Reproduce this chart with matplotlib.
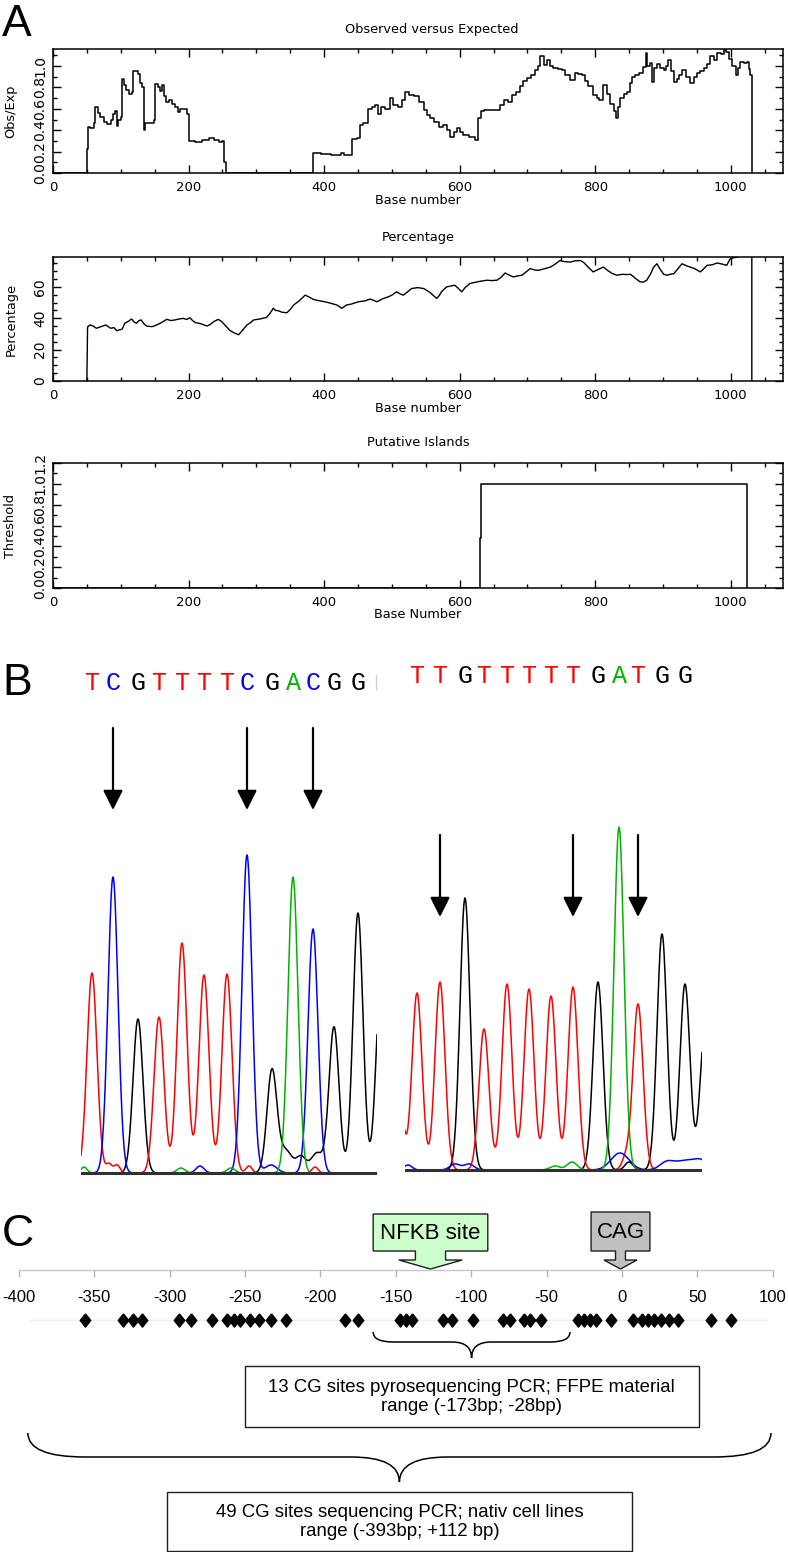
"""
Three-part figure: CpG island plot of the promoter (A), bisulfite
sequencing traces before/after conversion (B) and a map of the CG sites
covered by the two PCR assays (C).
"""
import numpy as np
import matplotlib.pyplot as plt
from matplotlib.patches import Polygon, Rectangle, PathPatch
from matplotlib.path import Path
from matplotlib.ticker import MultipleLocator, FormatStrFormatter

W, H = 788, 1552

# ---- A: CpG plot ----
obs_base = [
    0, 50, 51, 55, 60, 62, 66, 70, 75, 80,
    85, 88, 91, 94, 96, 100, 102, 105, 108, 112,
    116, 118, 126, 128, 131, 134, 136, 149, 150, 155,
    158, 161, 164, 167, 171, 176, 180, 184, 188, 197,
    200, 210, 220, 230, 238, 245, 250, 253, 255, 384,
    395, 410, 425, 430, 441, 448, 453, 458, 464, 470,
    475, 480, 484, 490, 497, 502, 509, 515, 520, 525,
    532, 540, 547, 552, 556, 562, 569, 575, 581, 586,
    591, 596, 600, 605, 614, 623, 627, 631, 636, 655,
    660, 665, 671, 677, 683, 689, 694, 699, 705, 711,
    716, 719, 724, 729, 733, 738, 745, 751, 756, 763,
    770, 775, 780, 785, 790, 797, 802, 805, 812, 817,
    822, 827, 830, 834, 837, 842, 847, 851, 854, 859,
    864, 871, 875, 877, 881, 884, 887, 891, 895, 901,
    905, 908, 912, 916, 920, 924, 928, 934, 940, 945,
    950, 955, 960, 965, 970, 975, 980, 985, 990, 993,
    997, 1002, 1007, 1011, 1014, 1020, 1024, 1027, 1029, 1031]
obs_ratio = [
    0.0, 0.22, 0.43, 0.42, 0.47, 0.62, 0.56, 0.52, 0.48, 0.46,
    0.50, 0.55, 0.58, 0.44, 0.50, 0.52, 0.88, 0.82, 0.78, 0.74,
    0.76, 0.95, 0.93, 0.84, 0.80, 0.40, 0.47, 0.50, 0.83, 0.80,
    0.77, 0.82, 0.72, 0.66, 0.68, 0.65, 0.62, 0.57, 0.60, 0.55,
    0.30, 0.29, 0.31, 0.33, 0.31, 0.29, 0.30, 0.10, 0.0, 0.19,
    0.18, 0.17, 0.19, 0.17, 0.32, 0.33, 0.45, 0.47, 0.60, 0.62,
    0.64, 0.55, 0.62, 0.60, 0.70, 0.64, 0.62, 0.68, 0.76, 0.73,
    0.72, 0.66, 0.59, 0.54, 0.51, 0.48, 0.43, 0.45, 0.40, 0.34,
    0.38, 0.42, 0.38, 0.36, 0.34, 0.31, 0.51, 0.58, 0.59, 0.59,
    0.64, 0.68, 0.66, 0.73, 0.76, 0.81, 0.86, 0.885, 0.92, 0.96,
    1.00, 1.09, 1.01, 1.06, 1.00, 0.98, 0.97, 0.96, 0.92, 0.87,
    0.94, 0.93, 0.92, 0.86, 0.81, 0.73, 0.70, 0.68, 0.82, 0.74,
    0.65, 0.58, 0.51, 0.62, 0.70, 0.74, 0.76, 0.84, 0.90, 0.92,
    0.94, 0.99, 1.12, 1.00, 1.03, 0.85, 0.98, 1.02, 0.98, 0.96,
    1.00, 1.06, 0.95, 0.85, 0.88, 0.92, 0.96, 0.90, 0.84, 0.90,
    0.94, 0.95, 0.98, 1.02, 1.09, 1.06, 1.12, 1.11, 1.15, 1.13,
    1.07, 1.00, 0.92, 0.98, 1.04, 1.03, 1.04, 0.97, 0.92, 0.0]

pct_base = [
    50, 50.5, 51, 55, 60, 64, 70, 78, 85, 90,
    94, 98, 102, 106, 111, 116, 120, 123, 127, 130,
    134, 138, 146, 152, 158, 163, 168, 174, 180, 186,
    192, 197, 202, 206, 210, 218, 227, 232, 237, 244,
    249, 255, 261, 268, 274, 280, 286, 291, 296, 305,
    315, 320, 325, 328, 332, 338, 345, 350, 355, 363,
    372, 378, 384, 392, 401, 410, 419, 426, 433, 440,
    451, 460, 468, 478, 487, 495, 500, 507, 512, 517,
    523, 529, 538, 547, 556, 566, 570, 573, 577, 581,
    587, 593, 598, 603, 608, 615, 622, 630, 640, 647,
    655, 661, 667, 673, 679, 686, 692, 698, 704, 710,
    716, 725, 734, 741, 748, 755, 763, 770, 778, 783,
    787, 792, 797, 804, 812, 818, 825, 832, 840, 846,
    852, 859, 866, 871, 876, 882, 886, 891, 896, 901,
    906, 911, 916, 922, 928, 934, 940, 947, 955, 960,
    965, 972, 980, 987, 994, 999, 1004, 1009, 1020, 1031,
    1031]
pct_gc = [
    0, 17, 34.5, 35.7, 34.8, 33.6, 34.5, 35.7, 33.6, 34.0,
    32.0, 32.6, 33.0, 36.8, 38.0, 39.5, 37.5, 36.8, 38.5, 38.9,
    36.5, 35.0, 34.6, 35.5, 36.8, 38.0, 39.3, 38.5, 38.9, 39.5,
    39.9, 39.2, 40.3, 38.5, 37.2, 36.5, 35.0, 36.0, 37.8, 39.3,
    37.8, 35.0, 32.2, 30.5, 29.5, 32.5, 35.7, 37.0, 38.9, 39.5,
    40.5, 43.0, 46.3, 45.0, 44.8, 43.8, 43.5, 45.5, 48.4, 51.0,
    54.7, 53.5, 52.0, 51.2, 50.5, 49.5, 48.4, 46.3, 48.4, 49.0,
    50.5, 51.0, 52.2, 50.5, 52.5, 53.7, 54.7, 56.8, 55.5, 54.7,
    56.8, 58.9, 59.5, 58.9, 56.5, 52.6, 54.5, 56.8, 58.5, 60.0,
    60.5, 61.0, 59.0, 56.8, 59.5, 62.1, 62.8, 63.5, 64.2, 64.0,
    64.2, 66.0, 68.8, 67.5, 66.3, 67.0, 67.4, 69.5, 71.6, 70.8,
    70.5, 71.5, 72.6, 74.5, 76.8, 76.0, 75.8, 76.5, 76.8, 75.5,
    73.7, 71.5, 69.5, 71.0, 72.6, 70.5, 68.5, 67.4, 68.0, 67.8,
    68.0, 65.5, 63.2, 63.0, 64.2, 68.5, 72.5, 74.7, 71.0, 68.0,
    67.4, 68.0, 68.4, 71.5, 74.7, 73.5, 72.6, 71.5, 69.5, 71.5,
    73.7, 74.0, 75.2, 74.5, 73.7, 77.9, 78.5, 78.9, 82.0, 82.0,
    0]

island_base = [0, 630, 632, 1024]
island_flag = [0.0, 0.48, 1.0, 0.0]

# ---- B: sequencing traces (peak position in scan units, peak height) ----
left_calls = "TCGTTTTCGACGG"
left_pos = [11, 32, 57, 78, 101, 123, 146, 166, 191, 212, 232, 253, 277]
left_height = [200, 296, 154, 156, 230, 198, 199, 318, 103, 296, 244, 146, 260]
left_bg_base = "GTTTTAACCGGGA"
left_bg_pos = [300, 28, 36, 168, 234, 100, 150, 119, 190, 205, 220, 236, 3]
left_bg_height = [190, 9, 8, 7, 6, 5, 5, 7, 8, 22, 16, 20, 6]
left_bg_width = [5, 3, 3, 3, 3, 4, 4, 4, 6, 6, 5, 6, 3]

right_calls = "TTGTTTTTGATGG"
right_pos = [12, 35, 60, 79, 102, 124, 146, 168, 193, 214, 233, 257, 280]
right_height = [177, 188, 272, 141, 186, 181, 174, 183, 188, 343, 166, 236, 186]
right_bg_base = "TGCCCCCCCAAGT"
right_bg_pos = [-9, 300, 215, 262, 280, 296, 50, 64, 3, 150, 167, 224, 221]
right_bg_height = [150, 140, 17, 8, 9, 9, 6, 6, 5, 4, 8, 8, 12]
right_bg_width = [5, 5, 9, 7, 9, 7, 5, 5, 4, 5, 5, 4, 4]

cpg_idx = [1, 7, 10]   # CpG cytosines marked with arrows

# ---- C: CG sites relative to the transcription start (bp) ----
cg_sites = [-356, -331, -324, -318, -294, -286, -272, -262, -257, -253,
            -247, -241, -233, -223, -184, -175, -147, -143, -139, -119,
            -113, -99, -79, -74, -65, -61, -54, -29, -25, -21,
            -17, -7, 7, 13, 17, 21, 26, 31, 37, 59, 72]
axis_ticks = list(range(-400, 101, 50))
callout_label = ["NFKB site", "CAG"]
callout_pos = [-127, -1]
callout_color = ["#ccffcc", "#c0c0c0"]
brace_start = [-165, -394]
brace_end = [-34.5, 98.8]
assay_text = ["13 CG sites pyrosequencing PCR; FFPE material\nrange (-173bp; -28bp)",
              "49 CG sites sequencing PCR; nativ cell lines\nrange (-393bp; +112 bp)"]

BASE_COLOR = {"T": "#ff0000", "C": "#0000ff", "G": "#000000", "A": "#00b400"}

fig = plt.figure(figsize=(W / 100, H / 100), dpi=100)


def px_axes(x0, y0, x1, y1):
    return fig.add_axes([x0 / W, 1 - y1 / H, (x1 - x0) / W, (y1 - y0) / H])


def cpg_axes(y0, y1, ymax, ymajor, yminor, yfmt, title, title_x, ylabel, xlabel):
    ax = px_axes(53, y0, 783, y1)
    ax.set_xlim(0, 1077)
    ax.set_ylim(0, ymax)
    ax.xaxis.set_major_locator(MultipleLocator(200))
    ax.xaxis.set_minor_locator(MultipleLocator(50))
    ax.yaxis.set_major_locator(MultipleLocator(ymajor))
    ax.yaxis.set_minor_locator(MultipleLocator(yminor))
    ax.yaxis.set_major_formatter(FormatStrFormatter(yfmt))
    ax.tick_params(which="both", direction="in", top=True, right=True, width=1)
    ax.tick_params(which="major", length=5.5)
    ax.tick_params(which="minor", length=3)
    ax.tick_params(axis="x", pad=6, labelsize=9.5)
    ax.tick_params(axis="y", pad=4, labelrotation=90, labelsize=10)
    plt.setp(ax.get_yticklabels(), va="center")
    for sp in ax.spines.values():
        sp.set_linewidth(1.1)
    h = y1 - y0
    ax.text(title_x, 1 + 20 / h, title, transform=ax.transAxes,
            ha="center", va="center", fontsize=9.3)
    ax.text(0.5, -27 / h, xlabel, transform=ax.transAxes,
            ha="center", va="center", fontsize=9.3)
    ax.text(-42 / 730, 0.5, ylabel, transform=ax.transAxes, rotation=90,
            ha="center", va="center", fontsize=9.3)
    return ax


ax1 = cpg_axes(49, 173, 1.16, 0.2, 0.1, "%.1f", "Observed versus Expected", 0.519,
               "Obs/Exp", "Base number")
ax1.plot(obs_base, obs_ratio, drawstyle="steps-post", color="black", lw=1.1)

ax2 = cpg_axes(257, 381, 79, 20, 5, "%d", "Percentage", 0.5, "Percentage", "Base number")
ax2.plot(pct_base, pct_gc, color="black", lw=1.0)

ax3 = cpg_axes(463, 588, 1.2, 0.2, 0.1, "%.1f", "Putative Islands", 0.5,
               "Threshold", "Base Number")
ax3.plot(island_base, island_flag, drawstyle="steps-post", color="black", lw=1.1)


def chromatogram(ax, calls, pos, height, bg_base, bg_pos, bg_height, bg_width,
                 xmax, letter_y, arrow_top, arrow_tip, sigma=5.0):
    scan = np.arange(0, xmax + 0.5, 0.5)
    for base in "GTCA":
        sig = np.zeros_like(scan)
        for b, p, hgt in zip(calls, pos, height):
            if b == base:
                sig += hgt * np.exp(-0.5 * ((scan - p) / sigma) ** 2)
        for b, p, hgt, w in zip(bg_base, bg_pos, bg_height, bg_width):
            if b == base:
                sig += hgt * np.exp(-0.5 * ((scan - p) / w) ** 2)
        ax.plot(scan, sig, color=BASE_COLOR[base], lw=1.1, zorder=2)
    ax.axhline(0, color="#303030", lw=2.2, zorder=3)
    for b, p in zip(calls, pos):
        ax.text(p, letter_y, b, color=BASE_COLOR[b], ha="center", va="center",
                fontsize=18, family="Liberation Mono")
    for i in cpg_idx:
        ax.annotate("", xy=(pos[i], arrow_tip), xytext=(pos[i], arrow_top),
                    arrowprops=dict(arrowstyle="-|>,head_length=0.6,head_width=0.3",
                                    color="black", lw=1.6, shrinkA=0, shrinkB=0,
                                    mutation_scale=20))
    ax.set_xlim(0, xmax)
    ax.axis("off")


axl = px_axes(81, 640, 377, 1180)
axl.set_ylim(-7, 533)
chromatogram(axl, left_calls, left_pos, left_height, left_bg_base, left_bg_pos,
             left_bg_height, left_bg_width, 296, 490, 445, 363)
axl.text(295, 490, "|", color="#d0d0d0", ha="center", va="center", fontsize=11)

axr = px_axes(405, 640, 702, 1180)
axr.set_ylim(-10, 530)
chromatogram(axr, right_calls, right_pos, right_height, right_bg_base, right_bg_pos,
             right_bg_height, right_bg_width, 297, 494, 335, 253)

# ---- C ----
axc = px_axes(0, 1200, 788, 1552)
axc.set_xlim(-622 / 1.508, (788 - 622) / 1.508)
axc.set_ylim(352, 0)
axc.axis("off")

axc.hlines(70, axis_ticks[0], axis_ticks[-1], color="#c8c8c8", lw=1)
axc.vlines(axis_ticks, 70, 77, color="#b4b4b4", lw=1)
for v in axis_ticks:
    axc.text(v, 98, f"{v}", ha="center", va="center", fontsize=12, family="Liberation Sans")

axc.hlines(120, axis_ticks[0] + 7, axis_ticks[-1] - 3, color="#efefef", lw=1, zorder=1)
axc.plot(cg_sites, [120] * len(cg_sites), linestyle="none", color="black",
         marker=[(0, 1), (0.8, 0), (0, -1), (-0.8, 0), (0, 1)], ms=9.5, zorder=2)

callout_size = [(38, 10, 21, 14), (19.5, 3.3, 11, 12)]  # box/neck/head half widths, box top
for label, c, col, (hw, nw, aw, yt) in zip(callout_label, callout_pos, callout_color, callout_size):
    yb, yn, yp = 51, 60, 69
    verts = [(c - hw, yt), (c + hw, yt), (c + hw, yb), (c + nw, yb), (c + nw, yn),
             (c + aw, yn), (c, yp), (c - aw, yn), (c - nw, yn), (c - nw, yb), (c - hw, yb)]
    axc.add_patch(Polygon(verts, closed=True, facecolor=col, edgecolor="#202020", lw=1))
    axc.text(c, (yt + yb) / 2 + 1, label, ha="center", va="center", fontsize=16,
             family="Liberation Sans")


def brace(ax, x0, x1, y_end, y_mid, y_tip, r_end, r_tip):
    xm = (x0 + x1) / 2
    verts = [(x0, y_end), (x0, y_mid), (x0 + r_end, y_mid),
             (xm - r_tip, y_mid), (xm, y_mid), (xm, y_tip),
             (xm, y_mid), (xm + r_tip, y_mid),
             (x1 - r_end, y_mid), (x1, y_mid), (x1, y_end)]
    codes = [Path.MOVETO, Path.CURVE3, Path.CURVE3, Path.LINETO, Path.CURVE3, Path.CURVE3,
             Path.CURVE3, Path.CURVE3, Path.LINETO, Path.CURVE3, Path.CURVE3]
    ax.add_patch(PathPatch(Path(verts, codes), facecolor="none", edgecolor="black", lw=1.1))


brace(axc, brace_start[0], brace_end[0], 132, 142, 158, 13, 13)
brace(axc, brace_start[1], brace_end[1], 233, 257, 282, 38, 32)

box_rows = [(166, 61, 197, 1.1), (292, 59, 322, 1.2)]  # top, height, text centre, line spacing
for x0, x1, txt, (top, hgt, ty, ls) in zip(brace_start, brace_end, assay_text, box_rows):
    mid = (x0 + x1) / 2
    half = 150.5 if x0 > -200 else 154
    axc.add_patch(Rectangle((mid - half, top), 2 * half, hgt, facecolor="white",
                            edgecolor="#202020", lw=1))
    axc.text(mid, ty, txt, ha="center", va="center", fontsize=13.4,
             family="Liberation Sans", linespacing=ls)

for letter, base_y in zip("ABC", [36, 695, 1246]):
    fig.text(2 / W, 1 - base_y / H, letter, fontsize=32, family="Liberation Sans",
             va="baseline", ha="left")

fig.savefig("out.png", dpi=100)
